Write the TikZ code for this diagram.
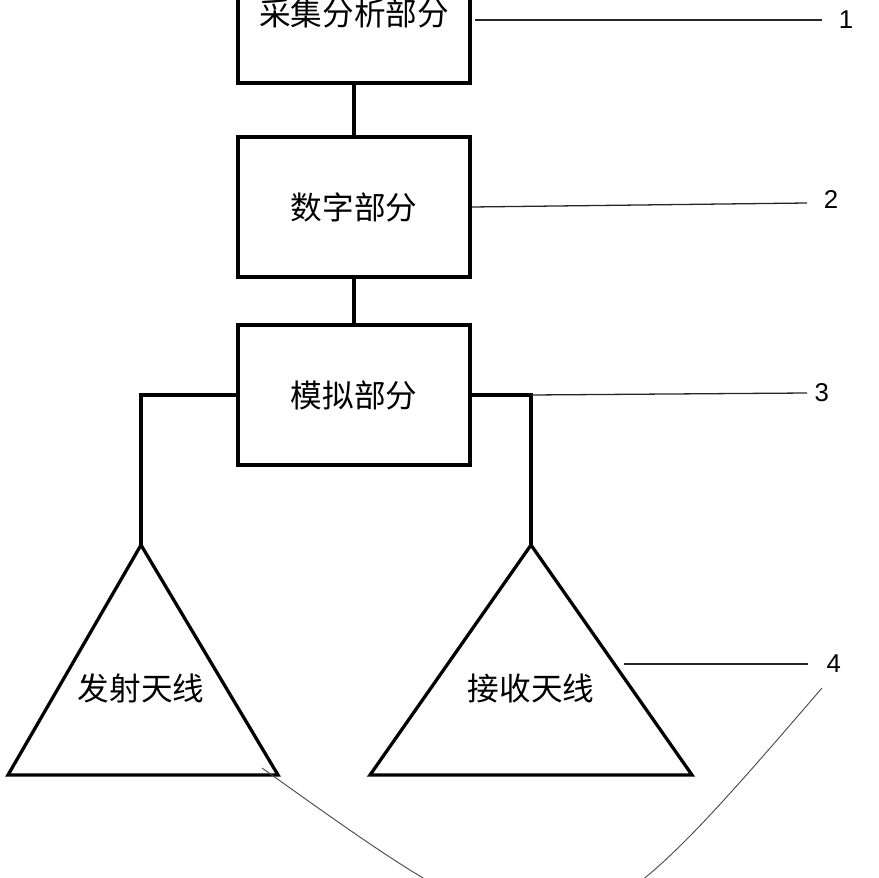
\documentclass[tikz,border=0pt]{standalone}
\usepackage{fontspec}
\setmainfont{Liberation Sans}
\newfontfamily\cjk{Noto Sans CJK SC}
\usetikzlibrary{calc,positioning}

\begin{document}
\begin{tikzpicture}[x=0.03cm,y=-0.03cm]
	\tikzstyle{pnode}=[rectangle,draw,line width=3.4pt,minimum width=6.96cm,minimum height=4.2cm,font=\cjk\fontsize{27}{32}\selectfont]
	\tikzstyle{wire}=[line width=3.4pt]
	\tikzstyle{antenna}=[line width=2.8pt,line join=miter]
	\tikzstyle{aname}=[font=\cjk\fontsize{27}{32}\selectfont]
	\tikzstyle{lead}=[line width=1.1pt,black!85]
	\tikzstyle{num}=[inner sep=0pt,font=\fontsize{22}{24}\selectfont]
	\useasboundingbox (0,0) rectangle (878,878);
	\clip (0,0) rectangle (878,878);
	% blocks
	\node[pnode] (acq) at (354,13) {采集分析部分};
	\node[pnode] (dig) at (354,207) {数字部分};
	\node[pnode] (ana) at (354,395) {模拟部分};
	\draw[wire] (acq) -- (dig);
	\draw[wire] (dig) -- (ana);
	% antennas
	\coordinate (txtop) at (141,545);
	\coordinate (rxtop) at (531,545);
	\draw[antenna] (txtop) -- (8,775) -- (278,775) -- cycle;
	\draw[antenna] (rxtop) -- (370,775) -- (692,775) -- cycle;
	\node[aname] (tx) at (141,688) {发射天线};
	\node[aname] (rx) at (531,688) {接收天线};
	\draw[wire] (ana.west) -| (txtop);
	\draw[wire] (ana.east) -| (rxtop);
	% labels
	\coordinate (s1) at (475,20);
	\coordinate (e1) at (822,20);
	\coordinate (e2) at (807,203);
	\coordinate (e3) at (807,393);
	\coordinate (s4) at (624,664);
	\coordinate (e4) at (808,664);
	\node[num,right=0.5cm of e1] (n1) {1};
	\node[num,right=0.5cm of e2,yshift=0.09cm] (n2) {2};
	\node[num,right=0.22cm of e3] (n3) {3};
	\node[num,right=0.55cm of e4] (n4) {4};
	\draw[lead] (s1) -- (e1);
	\draw[lead] (dig.east) -- (e2);
	\draw[lead] (ana.east -| rxtop) -- (e3);
	\draw[lead] (s4) -- (e4);
	\coordinate (c1) at (262,768);
	\coordinate (c2) at (822,688);
	\draw[line width=0.8pt,black!70] (c1) .. controls (566,985) and (566,985) .. (c2);
\end{tikzpicture}
\end{document}
